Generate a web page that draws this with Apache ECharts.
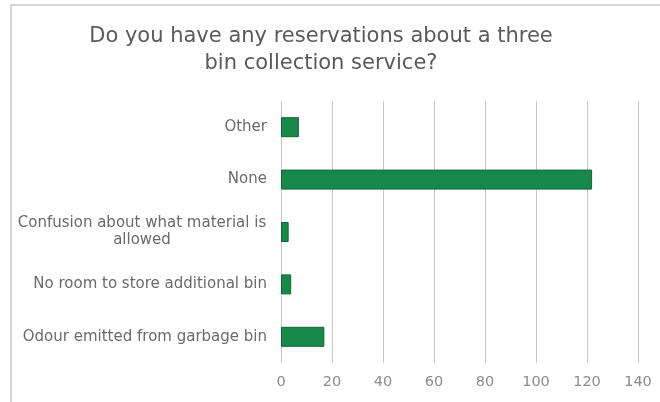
<!DOCTYPE html>
<html><head><meta charset="utf-8">
<script src="https://cdn.jsdelivr.net/npm/echarts@6/dist/echarts.min.js"></script>
<style>html,body{margin:0;padding:0;background:#fff}#c{width:660px;height:402px}</style>
</head><body><div id="c"></div>
<script>
const categories = ["Odour emitted from garbage bin","No room to store additional bin","Confusion about what material is\nallowed","None","Other"];
const counts = [17, 4, 3, 122, 7];
const xTicks = {min:0, max:140, interval:20};
const titleText = "Do you have any reservations about a three\nbin collection service?";

const chart = echarts.init(document.getElementById('c'));
chart.setOption({
  animation:false,
  backgroundColor:'#fff',
  title:{text:titleText,left:316,top:18,textAlign:'center',
    textStyle:{fontFamily:'DejaVu Sans',fontSize:21,fontWeight:'normal',color:'#5a5a5a',lineHeight:27}},
  graphic:[{type:'rect',shape:{x:11,y:5,width:700,height:500},style:{fill:'none',stroke:'#c8c8c8',lineWidth:1.5}}],
  grid:{left:281,right:22,top:101,bottom:39},
  xAxis:{type:'value',min:xTicks.min,max:xTicks.max,interval:xTicks.interval,
    axisLine:{show:false},axisTick:{show:false},
    axisLabel:{fontFamily:'DejaVu Sans',fontSize:14.5,color:'#8c8c8c',margin:12},
    splitLine:{lineStyle:{color:'#c8c8c8',width:1}}},
  yAxis:{type:'category',data:categories,
    axisLine:{show:false},axisTick:{show:false},
    axisLabel:{fontFamily:'DejaVu Sans',fontSize:15,color:'#6a6a6a',margin:14,align:'right',lineHeight:17,
      formatter:function(v){
        if(v.indexOf('\n')<0) return v;
        return v.split('\n').map(function(s){return '{c|'+s+'}';}).join('\n');
      },
      rich:{c:{fontFamily:'DejaVu Sans',fontSize:15,color:'#6a6a6a',lineHeight:17,width:250,align:'center'}}}},
  series:[{type:'bar',data:counts,barWidth:20,
    itemStyle:{color:'#17884a',borderColor:'#0b6a34',borderWidth:1}}]
});
</script></body></html>
